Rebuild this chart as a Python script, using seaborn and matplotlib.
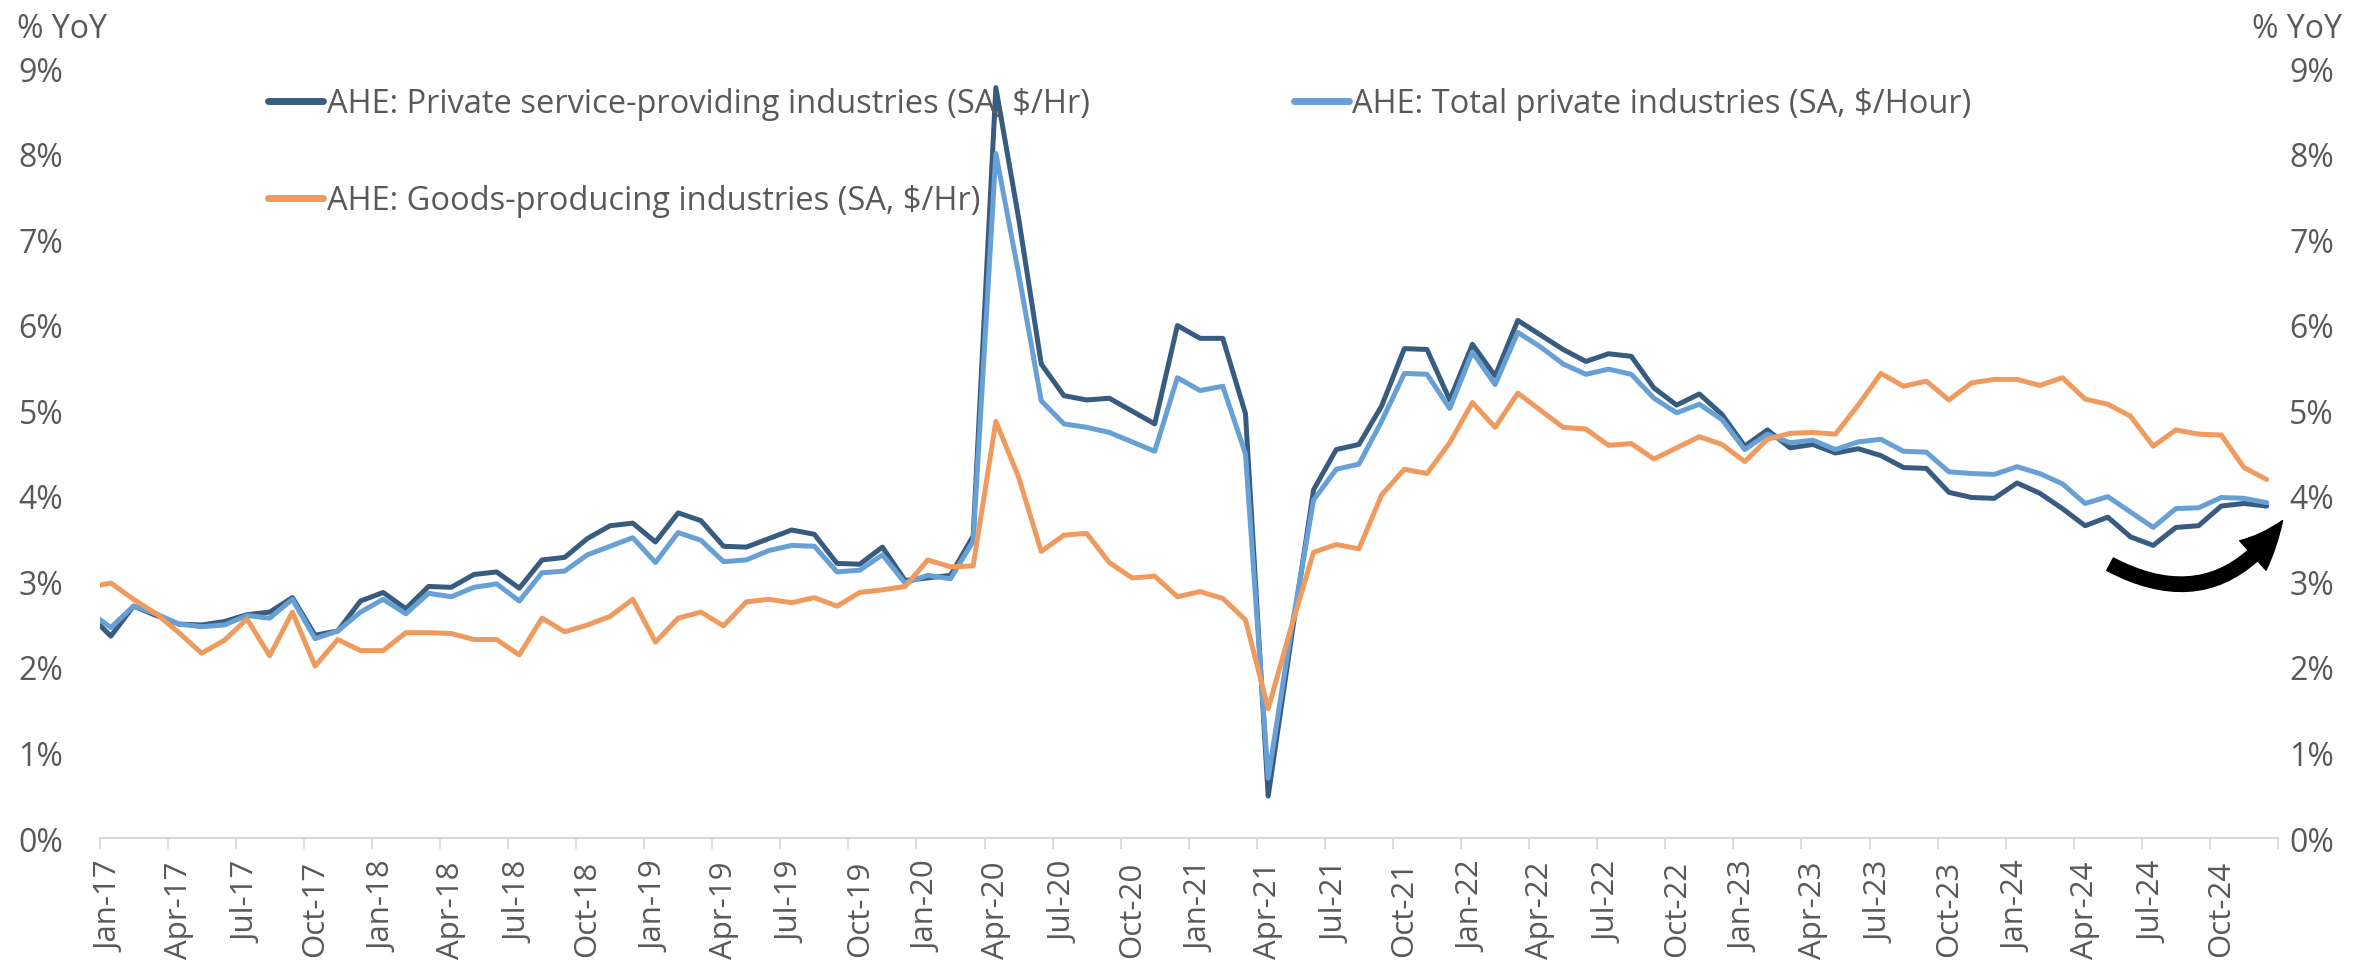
import numpy as np
import pandas as pd
import matplotlib
matplotlib.use('Agg')
import matplotlib.pyplot as plt
import seaborn as sns

# monthly data, Dec-16 (clipped at axis start) .. Dec-24
months = pd.date_range('2016-12-01', '2024-12-01', freq='MS')

service = [2.62,
           2.36, 2.71, 2.60, 2.50, 2.49, 2.53, 2.61, 2.64, 2.81, 2.37, 2.42, 2.77,
           2.87, 2.68, 2.94, 2.93, 3.08, 3.11, 2.92, 3.25, 3.28, 3.50, 3.65, 3.68,
           3.46, 3.80, 3.71, 3.41, 3.40, 3.50, 3.60, 3.55, 3.21, 3.20, 3.40, 3.01,
           3.04, 3.07, 3.53, 8.77, 7.25, 5.54, 5.17, 5.12, 5.14, 4.99, 4.84, 5.99,
           5.84, 5.84, 4.96, 0.49, 2.30, 4.07, 4.54, 4.60, 5.05, 5.72, 5.71, 5.12,
           5.77, 5.40, 6.05, 5.88, 5.71, 5.57, 5.66, 5.63, 5.26, 5.06, 5.19, 4.95,
           4.58, 4.77, 4.56, 4.60, 4.50, 4.55, 4.47, 4.33, 4.32, 4.04, 3.98, 3.97,
           4.15, 4.03, 3.85, 3.65, 3.75, 3.52, 3.42, 3.63, 3.65, 3.88, 3.91, 3.88]

total = [2.65,
         2.46, 2.71, 2.62, 2.50, 2.47, 2.49, 2.60, 2.57, 2.79, 2.33, 2.42, 2.64,
         2.79, 2.62, 2.86, 2.82, 2.93, 2.97, 2.77, 3.10, 3.12, 3.31, 3.41, 3.51,
         3.22, 3.57, 3.48, 3.23, 3.25, 3.36, 3.42, 3.41, 3.11, 3.13, 3.31, 2.98,
         3.07, 3.03, 3.47, 8.00, 6.60, 5.11, 4.84, 4.80, 4.74, 4.63, 4.52, 5.38,
         5.23, 5.28, 4.49, 0.70, 2.40, 3.95, 4.31, 4.37, 4.87, 5.43, 5.42, 5.02,
         5.68, 5.30, 5.91, 5.74, 5.54, 5.42, 5.48, 5.42, 5.14, 4.97, 5.07, 4.89,
         4.54, 4.72, 4.62, 4.65, 4.54, 4.63, 4.66, 4.52, 4.51, 4.28, 4.26, 4.25,
         4.34, 4.26, 4.14, 3.91, 3.99, 3.81, 3.63, 3.85, 3.86, 3.98, 3.97, 3.92]

goods = [2.93,
         2.98, 2.79, 2.62, 2.40, 2.16, 2.31, 2.56, 2.13, 2.64, 2.01, 2.32, 2.19,
         2.19, 2.40, 2.40, 2.39, 2.32, 2.32, 2.14, 2.57, 2.41, 2.49, 2.59, 2.79,
         2.29, 2.57, 2.64, 2.48, 2.76, 2.79, 2.75, 2.81, 2.71, 2.87, 2.90, 2.94,
         3.25, 3.17, 3.18, 4.87, 4.22, 3.35, 3.54, 3.56, 3.22, 3.04, 3.06, 2.82,
         2.88, 2.80, 2.55, 1.51, 2.45, 3.34, 3.43, 3.38, 4.01, 4.31, 4.26, 4.62,
         5.09, 4.80, 5.20, 5.00, 4.80, 4.78, 4.59, 4.61, 4.43, 4.56, 4.69, 4.60,
         4.40, 4.66, 4.73, 4.74, 4.72, 5.06, 5.43, 5.28, 5.34, 5.12, 5.32, 5.36,
         5.36, 5.29, 5.38, 5.13, 5.07, 4.93, 4.58, 4.77, 4.72, 4.71, 4.33, 4.19]

tick_labels = ['Jan-17', 'Apr-17', 'Jul-17', 'Oct-17', 'Jan-18', 'Apr-18', 'Jul-18', 'Oct-18',
               'Jan-19', 'Apr-19', 'Jul-19', 'Oct-19', 'Jan-20', 'Apr-20', 'Jul-20', 'Oct-20',
               'Jan-21', 'Apr-21', 'Jul-21', 'Oct-21', 'Jan-22', 'Apr-22', 'Jul-22', 'Oct-22',
               'Jan-23', 'Apr-23', 'Jul-23', 'Oct-23', 'Jan-24', 'Apr-24', 'Jul-24', 'Oct-24']

names = ['AHE: Private service-providing industries (SA, $/Hr)',
         'AHE: Total private industries (SA, $/Hour)',
         'AHE: Goods-producing industries (SA, $/Hr)']
colors = ['#385C80', '#67A0D5', '#EF9B5F']

# category centres: Jan-17 sits at 0.5, Dec-16 at -0.5 (clipped)
pos = np.arange(len(months)) - 0.5
df = pd.DataFrame({'pos': pos, names[0]: service, names[1]: total, names[2]: goods})
df_long = df.melt(id_vars='pos', var_name='series', value_name='value')

sns.set_style('white')
plt.rcParams['font.family'] = ['Open Sans', 'DejaVu Sans']
grey = '#595959'

fig = plt.figure(figsize=(23.67, 9.70), dpi=100)
ax = fig.add_axes([99.5 / 2367, 1 - 839 / 970, (2278 - 99.5) / 2367, (839 - 69) / 970])

sns.lineplot(data=df_long, x='pos', y='value', hue='series', hue_order=names,
             palette=colors, linewidth=3.6, ax=ax, legend=False)
for ln in ax.get_lines():
    ln.set_solid_joinstyle('round')

ax.set_xlim(0, 96)
ax.set_ylim(0, 9)
ax.set_xlabel('')
ax.set_ylabel('')

# tick marks on category boundaries, labels centred on categories
ax.set_xticks(np.arange(0, 97, 3))
ax.set_xticklabels([])
ax.set_xticks(np.arange(0, 96, 3) + 0.5, minor=True)
ax.set_xticklabels(tick_labels, minor=True, rotation=90, fontsize=22.5, color=grey)
ax.tick_params(axis='x', which='major', direction='out', length=8, width=1.3,
               color='#D9D9D9', bottom=True)
ax.tick_params(axis='x', which='minor', length=0, pad=16)

yticks = np.arange(0, 10)
ax.set_yticks(yticks)
ax.set_yticklabels([f'{v}%' for v in yticks], fontsize=23, color=grey)
ax.tick_params(axis='y', length=0, pad=26)

ax2 = ax.twinx()
ax2.set_ylim(0, 9)
ax2.set_yticks(yticks)
ax2.set_yticklabels([f'{v}%' for v in yticks], fontsize=23, color=grey)
ax2.tick_params(axis='y', length=0, pad=8)

for a in (ax, ax2):
    for s in ['top', 'left', 'right']:
        a.spines[s].set_visible(False)
    a.spines['bottom'].set_color('#D9D9D9')
    a.spines['bottom'].set_linewidth(1.5)

fig.text(17 / 2367, 1 - 30 / 970, '% YoY', fontsize=23, color=grey, va='center', ha='left')
fig.text(2342 / 2367, 1 - 30 / 970, '% YoY', fontsize=23, color=grey, va='center', ha='right')

# legend: row 1 service + total, row 2 goods
lines = ax.get_lines()
handles = [lines[0], lines[2], lines[1]]
labels = [names[0], names[2], names[1]]
leg = fig.legend(handles, labels, ncol=2, loc='upper left',
                 bbox_to_anchor=(268 / 2367, 1 - 88 / 970), frameon=False,
                 fontsize=23.5, handlelength=1.7, handletextpad=0.1,
                 columnspacing=6.25, labelspacing=1.97, borderpad=0, borderaxespad=0)
for t in leg.get_texts():
    t.set_color(grey)
for h in leg.legend_handles:
    h.set_linewidth(5)
    h.set_solid_capstyle('round')

# curved arrow at the end of the series
ax.annotate('', xy=(96.2, 3.71), xytext=(88.6, 3.20),
            arrowprops=dict(arrowstyle='simple,head_length=1.1,head_width=0.95,tail_width=0.34',
                            connectionstyle='arc3,rad=0.45', color='black',
                            shrinkA=0, shrinkB=0, mutation_scale=30),
            annotation_clip=False)

fig.savefig('out.png', dpi=100, facecolor='white')
